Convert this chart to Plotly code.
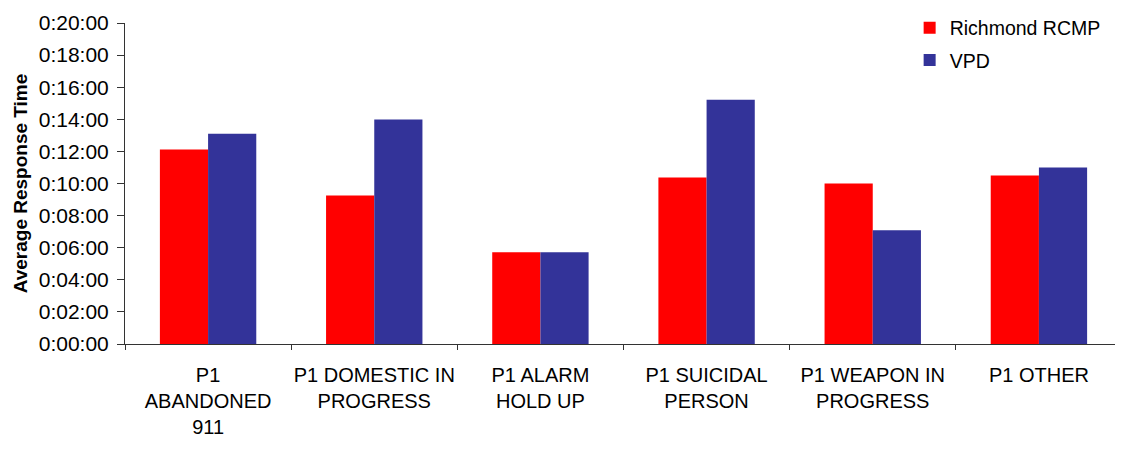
import plotly.graph_objects as go

categories = [
    "P1<br>ABANDONED<br>911",
    "P1 DOMESTIC IN<br>PROGRESS",
    "P1 ALARM<br>HOLD UP",
    "P1 SUICIDAL<br>PERSON",
    "P1 WEAPON IN<br>PROGRESS",
    "P1 OTHER",
]
# average response times, h:mm:ss
richmond_rcmp = ["0:12:07", "0:09:15", "0:05:43", "0:10:22", "0:10:00", "0:10:30"]
vpd = ["0:13:06", "0:13:59", "0:05:43", "0:15:13", "0:07:05", "0:11:00"]

tick_minutes = [0, 2, 4, 6, 8, 10, 12, 14, 16, 18, 20]
tick_labels = ["0:%02d:00" % m for m in tick_minutes]


def to_minutes(t):
    h, m, s = (int(p) for p in t.split(":"))
    return h * 60 + m + s / 60


FONT = "Liberation Sans, Arial, sans-serif"

fig = go.Figure()
fig.add_trace(go.Bar(
    x=categories, y=[to_minutes(t) for t in richmond_rcmp],
    name="Richmond RCMP", marker_color="#FF0000", marker_line_width=0, legendgroup="a",
    text=richmond_rcmp, hovertemplate="%{text}<extra>Richmond RCMP</extra>", textposition="none",
))
fig.add_trace(go.Bar(
    x=categories, y=[to_minutes(t) for t in vpd],
    name="VPD", marker_color="#333399", marker_line_width=0, legendgroup="b",
    text=vpd, hovertemplate="%{text}<extra>VPD</extra>", textposition="none",
))

# page body has an 8px margin, so the figure is sized/offset to fit the window
fig.update_layout(
    width=1115, height=441,
    barmode="group", bargap=0.42, bargroupgap=0,
    plot_bgcolor="white", paper_bgcolor="white",
    font=dict(family=FONT, size=20, color="black"),
    margin=dict(l=117, r=1, t=14, b=105),
    showlegend=True,
    legend=dict(
        x=0.787, y=1.042, xanchor="left", yanchor="top",
        traceorder="grouped", tracegroupgap=4,
        font=dict(size=19.5), bgcolor="rgba(0,0,0,0)",
    ),
    xaxis=dict(
        showline=True, linecolor="#333", linewidth=1,
        ticks="outside", tickson="boundaries", ticklen=5, tickcolor="#333",
        showgrid=False, tickangle=0, automargin=False, ticklabelstandoff=13,
    ),
    yaxis=dict(
        range=[0, 20], tickvals=tick_minutes, ticktext=tick_labels,
        showline=True, linecolor="#333", linewidth=1,
        ticks="outside", ticklen=7, tickcolor="#333",
        tickfont=dict(size=21), ticklabelstandoff=4,
        showgrid=False, zeroline=False, automargin=False,
        title=dict(text="<b>Average Response Time</b>", font=dict(size=19), standoff=6),
    ),
)

fig.write_html("out.html")
